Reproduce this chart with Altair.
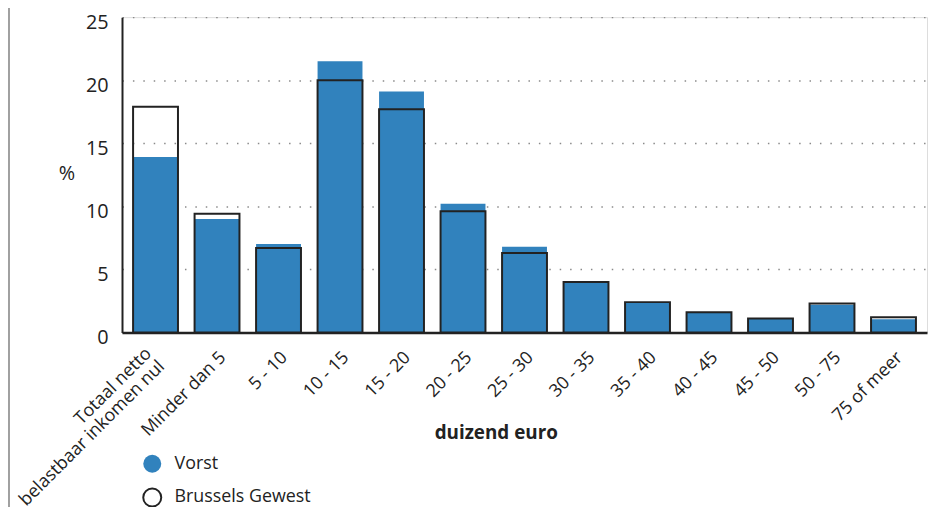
import altair as alt
import pandas as pd

categories = ["Totaal netto\u2007\u2007|belastbaar inkomen nul", "Minder dan 5", "5 - 10", "10 - 15",
              "15 - 20", "20 - 25", "25 - 30", "30 - 35", "35 - 40", "40 - 45",
              "45 - 50", "50 - 75", "75 of meer"]
vorst = [13.9, 9.0, 7.0, 21.5, 19.1, 10.2, 6.8, 4.0, 2.4, 1.6, 1.1, 2.2, 1.05]
brussel = [17.9, 9.4, 6.7, 20.0, 17.7, 9.6, 6.3, 4.0, 2.4, 1.6, 1.1, 2.3, 1.2]
series = ["Vorst", "Brussels Gewest"]
y_ticks = [0, 5, 10, 15, 20, 25]

rows = []
for c, v in zip(categories, vorst):
    rows.append({"cat": c, "val": v, "serie": series[0]})
for c, v in zip(categories, brussel):
    rows.append({"cat": c, "val": v, "serie": series[1]})
df = pd.DataFrame(rows)

FONT = "Open Sans"
BLUE = "#3182bd"
DARK = "#222222"
first_test = "indexof(datum.label, '|') >= 0"

legend_kw = dict(title=None, orient="none", legendX=20, legendY=440,
                 symbolType="circle", symbolSize=330, symbolStrokeWidth=2,
                 labelFontSize=18, labelFont=FONT, labelColor=DARK,
                 labelOffset=12, rowPadding=7, direction="vertical")

bars = alt.Chart(df).mark_bar(strokeWidth=2).encode(
    x=alt.X("cat:N", sort=categories,
            scale=alt.Scale(paddingInner=0.27, paddingOuter=0.18),
            axis=alt.Axis(title="duizend euro", labelAngle=-45, labelAlign="right",
                          labelBaseline="top", labelFontSize=18,
                          labelPadding={"condition": {"test": first_test, "value": 12}, "value": 16},
                          labelOffset={"condition": {"test": first_test, "value": -13}, "value": 0},
                          labelColor=DARK, labelFont=FONT, labelLimit=400,
                          labelExpr="split(datum.label, '|')",
                          labelLineHeight=18.5,
                          ticks=False, domainColor=DARK, domainWidth=2.5,
                          titleFont=FONT, titleFontSize=19, titleFontWeight="bold",
                          titleColor=DARK, titleX=377, titleY=101,
                          titleBaseline="middle")),
    y=alt.Y("val:Q", stack=None,
            scale=alt.Scale(domain=[0, 25], nice=False),
            axis=alt.Axis(values=y_ticks, title="%", titleAngle=0, titleX=-56, titleY=158,
                          titleBaseline="middle", titleAlign="center",
                          titleFont=FONT, titleFontSize=20, titleFontWeight="normal",
                          titleColor=DARK,
                          labelFontSize=20, labelFont=FONT, labelColor=DARK, labelPadding=14,
                          labelOffset=5,
                          ticks=False, domainColor=DARK, domainWidth=2,
                          grid=True, gridColor="#8a8a8a", gridDash=[1.5, 9], gridWidth=1.5)),
    fill=alt.Fill("serie:N", scale=alt.Scale(domain=series, range=[BLUE, "transparent"]),
                  legend=alt.Legend(**legend_kw)),
    stroke=alt.Stroke("serie:N", scale=alt.Scale(domain=series, range=["transparent", DARK]),
                      legend=alt.Legend(**legend_kw)),
)

border = alt.Chart(pd.DataFrame({"a": [0]})).mark_rule(color="#a0a0a0", strokeWidth=2).encode(
    x=alt.value(-114), y=alt.value(-15), y2=alt.value(500)
)

chart = alt.layer(border, bars).properties(
    width=812, height=318,
    autosize=alt.AutoSizeParams(type="none"),
    padding={"left": 115, "top": 7, "right": 2, "bottom": 185},
).configure_view(stroke=None).configure(font=FONT)

chart.save("out.html", embed_options={"renderer": "svg", "actions": False})
